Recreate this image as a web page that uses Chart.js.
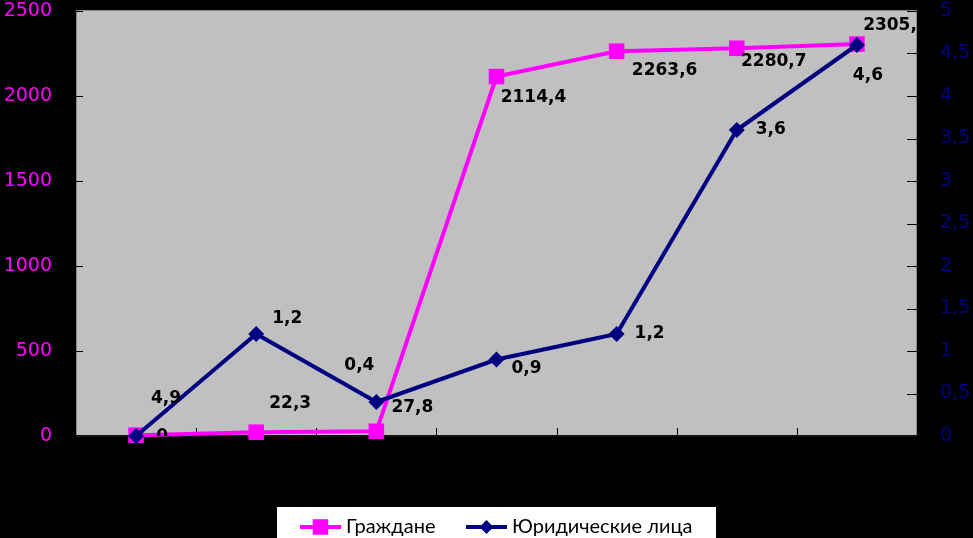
<!DOCTYPE html>
<html>
<head>
<meta charset="utf-8">
<script src="https://cdn.jsdelivr.net/npm/chart.js@4.4.1/dist/chart.umd.min.js"></script>
<style>
  html, body { margin: 0; padding: 0; background: #000; }
  #wrap { width: 973px; height: 538px; }
</style>
</head>
<body>
<div id="wrap"><canvas id="myChart"></canvas></div>
<script>
/* --------------------------------------------------------------- */
/* данные */

var categories = ['1', '2', '3', '4', '5', '6', '7'];
var seriesNames = ['Граждане', 'Юридические лица'];
var grazhdane = [4.9, 22.3, 27.8, 2114.4, 2263.6, 2280.7, 2305.3];
var yurLica = [0, 1.2, 0.4, 0.9, 1.2, 3.6, 4.6];
var leftTicks = [0, 500, 1000, 1500, 2000, 2500];
var rightTicks = [0, 0.5, 1, 1.5, 2, 2.5, 3, 3.5, 4, 4.5, 5];

var MAGENTA = '#FF00FF';
var NAVY = '#000080';

// смещения подписей данных от точки (px)
var offsG = [[30, -37], [34, -29], [36, -24], [37, 21], [48, 19], [37, 13], [39, -19]];
var offsY = [[26, 1], [31, -15], [-17, -36], [30, 9], [33, 0], [34, 0], [11, 31]];

function fmt(v) {
    return String(v).replace('.', ',');
}

/* --------------------------------------------------------------- */
/* плагины */

// фон и рамка области построения, засечки
var plotArea = {
    id: 'plotArea',
    beforeDraw: function (chart) {
        var ctx = chart.ctx, a = chart.chartArea;
        ctx.save();
        ctx.fillStyle = '#000';
        ctx.fillRect(0, 0, chart.width, chart.height);
        ctx.fillStyle = '#C0C0C0';
        ctx.fillRect(a.left, a.top, a.right - a.left, a.bottom - a.top);
        ctx.lineWidth = 1;
        ctx.strokeStyle = '#8a8a8a';
        ctx.strokeRect(a.left + 0.5, a.top - 0.5, a.right - a.left - 1, a.bottom - a.top);
        ctx.strokeStyle = '#000';
        ctx.beginPath();
        // засечки левой оси
        chart.scales.y.ticks.forEach(function (t) {
            var y = Math.round(chart.scales.y.getPixelForValue(t.value)) + 0.5;
            ctx.moveTo(a.left - 1, y);
            ctx.lineTo(a.left + 7, y);
        });
        // засечки правой оси
        chart.scales.y1.ticks.forEach(function (t) {
            var y = Math.round(chart.scales.y1.getPixelForValue(t.value)) + 0.5;
            ctx.moveTo(a.right - 10, y);
            ctx.lineTo(a.right, y);
        });
        // засечки оси категорий (между категориями)
        var step = (a.right - a.left) / categories.length;
        for (var i = 1; i < categories.length; i++) {
            var x = Math.round(a.left + step * i) + 0.5;
            ctx.moveTo(x, a.bottom);
            ctx.lineTo(x, a.bottom - 8);
        }
        ctx.stroke();
        ctx.lineWidth = 2;
        ctx.strokeStyle = '#111';
        ctx.beginPath();
        ctx.moveTo(a.left, a.bottom);
        ctx.lineTo(a.right, a.bottom);
        ctx.stroke();
        ctx.restore();
    }
};

// подписи значений
var dataLabels = {
    id: 'dataLabels',
    afterDatasetsDraw: function (chart) {
        var ctx = chart.ctx, a = chart.chartArea;
        ctx.save();
        ctx.beginPath();
        ctx.rect(a.left, a.top, a.right - a.left, a.bottom - a.top);
        ctx.clip();
        ctx.font = 'bold 17px "DejaVu Sans"';
        ctx.fillStyle = '#000';
        ctx.textAlign = 'center';
        ctx.textBaseline = 'middle';
        [offsG, offsY].forEach(function (offs, di) {
            var meta = chart.getDatasetMeta(di);
            var vals = chart.data.datasets[di].data;
            meta.data.forEach(function (pt, i) {
                ctx.fillText(fmt(vals[i]), pt.x + offs[i][0], pt.y + offs[i][1]);
            });
        });
        ctx.restore();
    }
};

// легенда внизу на белом фоне
var bottomLegend = {
    id: 'bottomLegend',
    afterDraw: function (chart) {
        var ctx = chart.ctx;
        ctx.save();
        ctx.fillStyle = '#fff';
        ctx.fillRect(277, 507, 439, 31);
        var items = [
            { x: 300, color: MAGENTA, style: 'rect', r: 11 },
            { x: 466, color: NAVY, style: 'rectRot', r: 7 }
        ];
        ctx.font = '20px Lato';
        ctx.textBaseline = 'middle';
        ctx.textAlign = 'left';
        items.forEach(function (it, i) {
            ctx.strokeStyle = it.color;
            ctx.lineWidth = 4;
            ctx.beginPath();
            ctx.moveTo(it.x, 527);
            ctx.lineTo(it.x + 41, 527);
            ctx.stroke();
            ctx.fillStyle = it.color;
            Chart.helpers.drawPoint(ctx, { pointStyle: it.style, radius: it.r, borderWidth: 0 }, it.x + 20.5, 527);
            ctx.fillStyle = '#000';
            ctx.fillText(seriesNames[i], it.x + 46, 527);
        });
        ctx.restore();
    }
};

/* --------------------------------------------------------------- */
/* график */

var ctx = document.getElementById('myChart').getContext('2d');
var myChart = new Chart(ctx, {
    type: 'line',
    data: {
        labels: categories,
        datasets: [{
            label: seriesNames[0],
            data: grazhdane,
            yAxisID: 'y',
            borderColor: MAGENTA,
            backgroundColor: MAGENTA,
            borderWidth: 4,
            pointStyle: 'rect',
            pointRadius: 11,
            pointBorderWidth: 0,
            pointBackgroundColor: MAGENTA,
            tension: 0,
            clip: false,
            order: 2
        }, {
            label: seriesNames[1],
            data: yurLica,
            yAxisID: 'y1',
            borderColor: NAVY,
            backgroundColor: NAVY,
            borderWidth: 4,
            pointStyle: 'rectRot',
            pointRadius: 8,
            pointBorderWidth: 0,
            pointBackgroundColor: NAVY,
            tension: 0,
            clip: false,
            order: 1
        }]
    },
    options: {
        responsive: true,
        maintainAspectRatio: false,
        animation: false,
        layout: {
            padding: { top: 9, right: 0, bottom: 0, left: 0 }
        },
        scales: {
            x: {
                offset: true,
                grid: { display: false },
                border: { display: false },
                ticks: { display: false },
                afterFit: function (s) { s.height = 102; s.paddingLeft = 0; s.paddingRight = 0; }
            },
            y: {
                position: 'left',
                min: 0,
                max: 2500,
                grid: { display: false, drawTicks: false },
                border: { display: false },
                afterBuildTicks: function (s) {
                    s.ticks = leftTicks.map(function (v) { return { value: v }; });
                },
                ticks: {
                    color: MAGENTA,
                    font: { family: 'DejaVu Sans', size: 19 },
                    padding: 24,
                    callback: function (v) { return fmt(v); }
                },
                afterFit: function (s) { s.width = 76; s.paddingTop = 0; s.paddingBottom = 0; }
            },
            y1: {
                position: 'right',
                min: 0,
                max: 5,
                grid: { display: false, drawTicks: false },
                border: { display: false },
                afterBuildTicks: function (s) {
                    s.ticks = rightTicks.map(function (v) { return { value: v }; });
                },
                ticks: {
                    color: NAVY,
                    font: { family: 'DejaVu Sans', size: 19 },
                    padding: 23,
                    callback: function (v) { return fmt(v); }
                },
                afterFit: function (s) { s.width = 56; s.paddingTop = 0; s.paddingBottom = 0; }
            }
        },
        plugins: {
            legend: { display: false },
            tooltip: { enabled: false }
        }
    },
    plugins: [plotArea, dataLabels, bottomLegend]
});
/* --------------------------------------------------------------- */
</script>
</body>
</html>
